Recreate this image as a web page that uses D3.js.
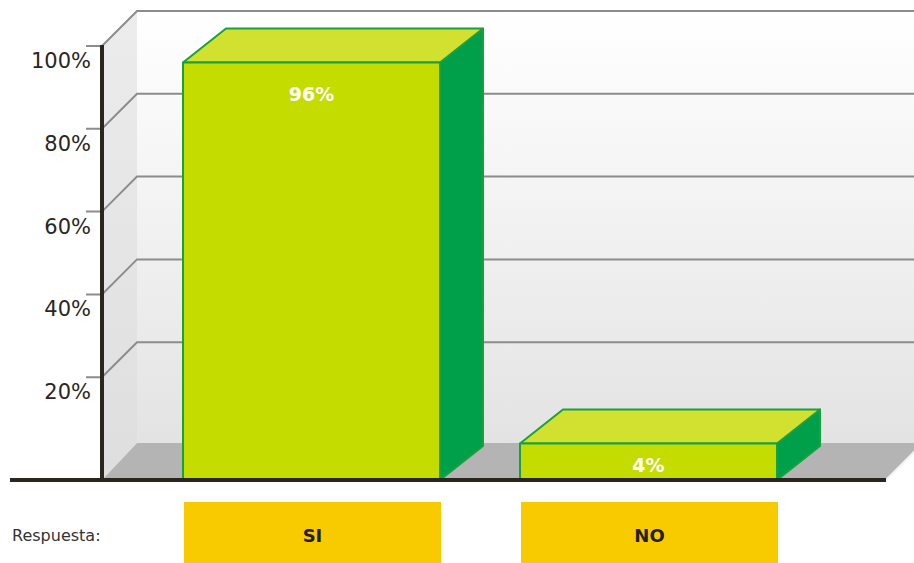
<!DOCTYPE html>
<html>
<head>
<meta charset="utf-8">
<script src="https://cdn.jsdelivr.net/npm/d3@7/dist/d3.min.js"></script>
<style>
  html, body { margin: 0; padding: 0; background: #ffffff; }
  svg { display: block; }
</style>
</head>
<body>
<svg id="chart" width="914" height="563"></svg>
<script>
// Survey answers
const categories = ["SI", "NO"];
const values = [96, 4];
const valueLabels = ["96%", "4%"];
const tickValues = [20, 40, 60, 80, 100];
const tickLabels = ["20%", "40%", "60%", "80%", "100%"];
const rowTitle = "Respuesta:";

const W = 914, H = 563;
const svg = d3.select("#chart");
const font = "'DejaVu Sans', Verdana, sans-serif";

// 3D frame geometry
const axisX = 102;            // front vertical axis
const floorY = 480;           // front floor line
const wallDX = 35, wallDY = -35;  // wall depth offset
const barDX = 43, barDY = -34;    // bar depth offset

const y = d3.scaleLinear().domain([0, 100]).range([460, 46]);
const x = d3.scaleBand().domain(categories)
  .range([183, 777]).paddingInner(80 / 337).paddingOuter(0);

const defs = svg.append("defs");
const gBack = defs.append("linearGradient").attr("id", "backWall")
  .attr("x1", 0).attr("y1", 0).attr("x2", 0).attr("y2", 1);
gBack.append("stop").attr("offset", "0%").attr("stop-color", "#ffffff");
gBack.append("stop").attr("offset", "30%").attr("stop-color", "#f7f7f7");
gBack.append("stop").attr("offset", "100%").attr("stop-color", "#e3e3e3");
const gSide = defs.append("linearGradient").attr("id", "sideWall")
  .attr("x1", 0).attr("y1", 0).attr("x2", 0).attr("y2", 1);
gSide.append("stop").attr("offset", "0%").attr("stop-color", "#ececec");
gSide.append("stop").attr("offset", "100%").attr("stop-color", "#dedede");

const backTop = y(100) + wallDY;
const backFloor = 443;
const backLeft = axisX + wallDX;

// back wall
svg.append("rect")
  .attr("x", backLeft).attr("y", backTop)
  .attr("width", W - backLeft).attr("height", backFloor - backTop)
  .attr("fill", "url(#backWall)");

// side wall
svg.append("path")
  .attr("d", `M${axisX},${y(100)} L${backLeft},${backTop} L${backLeft},${backFloor} L${axisX},${floorY} Z`)
  .attr("fill", "url(#sideWall)");

// floor
const floorRight = 886;
const floorDepth = floorY - backFloor;
svg.append("path")
  .attr("d", `M${axisX},${floorY} L${floorRight},${floorY} L${floorRight + floorDepth},${backFloor} L${backLeft},${backFloor} Z`)
  .attr("fill", "#b4b4b4");
svg.append("line")
  .attr("x1", floorRight).attr("y1", floorY)
  .attr("x2", floorRight + floorDepth).attr("y2", backFloor)
  .attr("stroke", "#f2f2f2").attr("stroke-width", 2);

// gridlines: front tick, diagonal on the side wall, line across back wall
const grid = svg.append("g").attr("stroke", "#8c8c8c").attr("stroke-width", 2).attr("fill", "none");
tickValues.forEach(v => {
  const fy = y(v);
  grid.append("path")
    .attr("d", `M${axisX - 16},${fy} L${axisX},${fy} L${backLeft},${fy + wallDY} L${W},${fy + wallDY}`);
});

// bars
const bars = svg.append("g");
categories.forEach((c, i) => {
  const x0 = x(c), x1 = x(c) + x.bandwidth();
  const top = y(values[i]);
  const g = bars.append("g").attr("stroke", "#19a040").attr("stroke-width", 2).attr("stroke-linejoin", "round");
  // side face
  g.append("path")
    .attr("d", `M${x1},${top} L${x1 + barDX},${top + barDY} L${x1 + barDX},${floorY + barDY} L${x1},${floorY} Z`)
    .attr("fill", "#00a04b");
  // top face
  g.append("path")
    .attr("d", `M${x0},${top} L${x0 + barDX},${top + barDY} L${x1 + barDX},${top + barDY} L${x1},${top} Z`)
    .attr("fill", "#d2e12f");
  // front face
  g.append("rect")
    .attr("x", x0).attr("y", top).attr("width", x1 - x0).attr("height", floorY - top)
    .attr("fill", "#c4dc00");
  const ly = Math.min(top + 38, (top + floorY) / 2 + 10);
  bars.append("text")
    .attr("x", (x0 + x1) / 2).attr("y", ly)
    .attr("text-anchor", "middle")
    .attr("font-family", font).attr("font-weight", "bold").attr("font-size", 19)
    .attr("fill", "#ffffff")
    .text(valueLabels[i]);
});

// axes
svg.append("line")
  .attr("x1", axisX).attr("y1", y(100) - 1).attr("x2", axisX).attr("y2", floorY + 2)
  .attr("stroke", "#2b2520").attr("stroke-width", 4);
svg.append("line")
  .attr("x1", 10).attr("y1", floorY).attr("x2", floorRight).attr("y2", floorY)
  .attr("stroke", "#2b2520").attr("stroke-width", 4);

// tick labels
svg.append("g").selectAll("text").data(tickValues).join("text")
  .attr("x", 91).attr("y", d => y(d) + 22)
  .attr("text-anchor", "end")
  .attr("font-family", font).attr("font-size", 21)
  .attr("fill", "#2b2622")
  .text((d, i) => tickLabels[i]);

// category boxes
svg.append("text")
  .attr("x", 12).attr("y", 541)
  .attr("font-family", font).attr("font-size", 16)
  .attr("fill", "#333333")
  .text(rowTitle);
const boxes = svg.append("g");
categories.forEach(c => {
  boxes.append("rect")
    .attr("x", x(c) + 1).attr("y", 502).attr("width", x.bandwidth()).attr("height", H - 502)
    .attr("fill", "#f8cb00");
  boxes.append("text")
    .attr("x", x(c) + 1 + x.bandwidth() / 2).attr("y", 542)
    .attr("text-anchor", "middle")
    .attr("font-family", font).attr("font-weight", "bold").attr("font-size", 18)
    .attr("fill", "#231f1b")
    .text(c);
});
</script>
</body>
</html>
